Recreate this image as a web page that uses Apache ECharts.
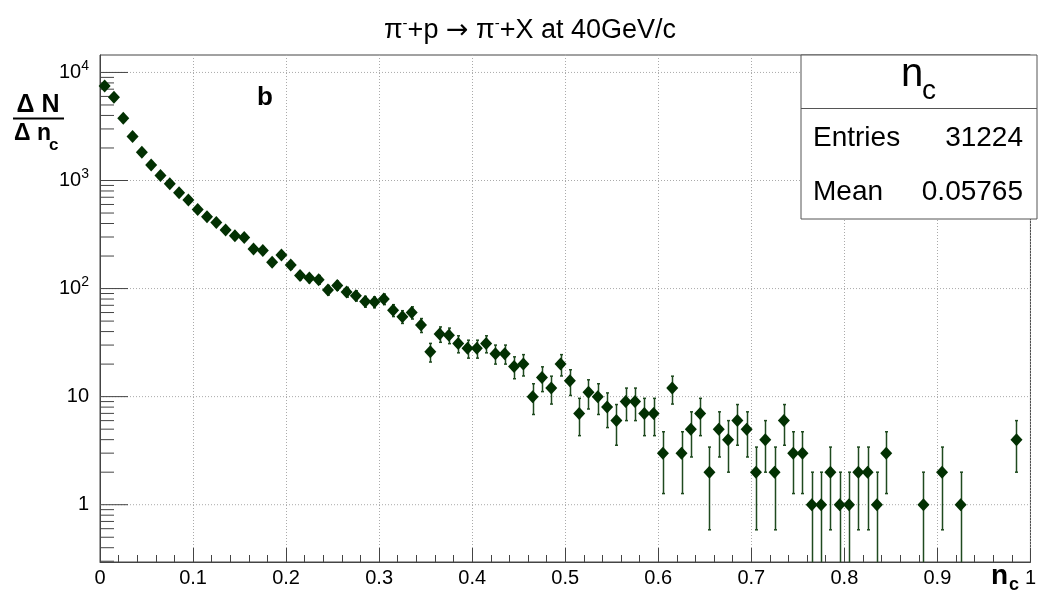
<!DOCTYPE html>
<html><head><meta charset="utf-8">
<script src="https://cdn.jsdelivr.net/npm/echarts@6/dist/echarts.min.js"></script>
<style>html,body{margin:0;padding:0;background:#fff}#c{width:1039px;height:592px}</style>
</head><body><div id="c"></div>
<script>
// Histogram definition: 100 bins on [0, 1]
const nBins = 100, xMin = 0, xMax = 1;
// Bin contents (entries per bin), 0 = empty bin
const counts = [
  7500, 5900, 3760, 2560, 1830, 1390, 1115, 933, 769, 659,
  540, 461, 409, 348, 308, 297, 232, 225, 175, 204,
  165, 132, 125, 121, 97, 107, 93, 86, 76, 75,
  80, 63, 55, 60, 46, 26, 38, 37, 31, 28,
  28, 31, 25, 25, 19, 20, 10, 15, 12, 20,
  14, 7, 11, 10, 8, 6, 9, 9, 7, 7,
  3, 12, 3, 5, 7, 2, 5, 4, 6, 5,
  2, 4, 2, 6, 3, 3, 1, 1, 2, 1,
  1, 2, 2, 1, 3, 0, 0, 0, 1, 0,
  2, 0, 1, 0, 0, 0, 0, 0, 4, 0
];
const xTickValues = [0, 0.1, 0.2, 0.3, 0.4, 0.5, 0.6, 0.7, 0.8, 0.9, 1];
const xTickLabels = ['0', '0.1', '0.2', '0.3', '0.4', '0.5', '0.6', '0.7', '0.8', '0.9', '1'];
const yTickValues = [1, 10, 100, 1000, 10000];
const yTickLabels = ['1', '10', '10{sup|2}', '10{sup|3}', '10{sup|4}'];
const yMinorTicks = [0.3, 0.4, 0.5, 0.6, 0.7, 0.8, 0.9,
  2, 3, 4, 5, 6, 7, 8, 9,
  20, 30, 40, 50, 60, 70, 80, 90,
  200, 300, 400, 500, 600, 700, 800, 900,
  2000, 3000, 4000, 5000, 6000, 7000, 8000, 9000];
const yMin = 0.295, yMax = 14500;
const statsTitle = 'n', statsTitleSub = 'c';
const statsRows = [['Entries', '31224'], ['Mean', '0.05765']];

const FONT = '"Liberation Sans", Arial, Helvetica, sans-serif';
const MARK = '#023002';
const ERR = '#1f4a1f';

const binW = (xMax - xMin) / nBins;
const points = [];
const errs = [];
counts.forEach((c, i) => {
  if (c > 0) {
    const x = xMin + (i + 0.5) * binW;
    const e = Math.sqrt(c);
    points.push([x, c]);
    errs.push([x, c, c - e, c + e]);
  }
});

function findIdx(arr, v) {
  for (let i = 0; i < arr.length; i++) {
    if (Math.abs(arr[i] - v) <= 1e-6 * Math.max(1, Math.abs(arr[i]))) return i;
  }
  return -1;
}

const chart = echarts.init(document.getElementById('c'), null, {renderer: 'canvas'});
chart.setOption({
  animation: false,
  backgroundColor: '#fff',
  grid: {left: 100, right: 2, top: 55, bottom: 30, show: true, borderColor: '#444', borderWidth: 1, backgroundColor: '#fff'},
  xAxis: {
    type: 'value', min: xMin, max: xMax, interval: 0.1,
    axisLine: {show: true, lineStyle: {color: '#444', width: 1}},
    axisTick: {show: true, inside: true, length: 14, lineStyle: {color: '#444'}},
    minorTick: {show: true, splitNumber: 5, length: 7, lineStyle: {color: '#444'}},
    splitLine: {show: true, lineStyle: {color: '#aaa', type: [1, 2], width: 1}},
    axisLabel: {
      margin: 6, fontSize: 20, fontFamily: FONT, color: '#000',
      showMinLabel: true, showMaxLabel: true,
      formatter: v => { const i = findIdx(xTickValues, v); return i >= 0 ? xTickLabels[i] : ''; }
    }
  },
  yAxis: {
    type: 'log', logBase: 10, min: yMin, max: yMax,
    axisLine: {show: true, lineStyle: {color: '#444', width: 1}},
    axisTick: {show: false},
    splitLine: {show: false},
    axisLabel: {show: false}
  },
  series: [
    {
      type: 'custom', name: 'grid', silent: true, z: 1,
      data: yTickValues.map(v => [xMin, v]),
      encode: {x: 0, y: 1},
      clip: false,
      renderItem: function (params, api) {
        const p = api.coord([api.value(0), api.value(1)]);
        const pr = api.coord([xMax, api.value(1)]);
        const i = params.dataIndex;
        return {type: 'group', children: [
          {type: 'line', shape: {x1: p[0], y1: p[1], x2: pr[0], y2: pr[1]}, style: {stroke: '#aaa', lineWidth: 1, lineDash: [1, 2]}, z2: 0},
          {type: 'line', shape: {x1: p[0], y1: p[1], x2: p[0] + 28, y2: p[1]}, style: {stroke: '#444', lineWidth: 1}, z2: 1},
          {type: 'text', x: p[0] - 11, y: p[1], style: {text: yTickLabels[i], align: 'right', verticalAlign: 'middle', fontSize: 20, fontFamily: FONT, fill: '#000', rich: {sup: {fontSize: 14, fontFamily: FONT, verticalAlign: 'top', lineHeight: 26}}, lineHeight: 26}}
        ]};
      }
    },
    {
      type: 'custom', name: 'minor', silent: true, z: 2,
      data: yMinorTicks.map(v => [xMin, v]),
      encode: {x: 0, y: 1},
      clip: false,
      renderItem: function (params, api) {
        const p = api.coord([api.value(0), api.value(1)]);
        return {type: 'line', shape: {x1: p[0], y1: p[1], x2: p[0] + 14, y2: p[1]}, style: {stroke: '#444', lineWidth: 1}};
      }
    },
    {
      type: 'custom', name: 'errors', silent: true, z: 3,
      data: errs,
      encode: {x: 0, y: 1},
      clip: true,
      renderItem: function (params, api) {
        const x = api.value(0), lo = api.value(2), hi = api.value(3);
        const pt = api.coord([x, hi]);
        const pb = api.coord([x, lo > 0 ? lo : yMin * 0.05]);
        const cx = Math.round(pt[0]) + 0.5;
        const ch = [
          {type: 'line', shape: {x1: cx, y1: pt[1], x2: cx, y2: pb[1]}, style: {stroke: ERR, lineWidth: 1.5}},
          {type: 'line', shape: {x1: cx - 1.5, y1: pt[1], x2: cx + 1.5, y2: pt[1]}, style: {stroke: ERR, lineWidth: 1.5}}
        ];
        if (lo > 0) ch.push({type: 'line', shape: {x1: cx - 1.5, y1: pb[1], x2: cx + 1.5, y2: pb[1]}, style: {stroke: ERR, lineWidth: 1.5}});
        return {type: 'group', children: ch};
      }
    },
    {
      type: 'scatter', name: 'n_c', z: 4,
      data: points,
      symbol: 'diamond', symbolSize: [12, 13],
      itemStyle: {color: MARK, opacity: 1},
      silent: true
    }
  ],
  graphic: [
    {type: 'text', x: 530, y: 31, style: {text: 'π{sup|-}+p {arr|→} π{sup|-}+X at 40GeV/c', align: 'center', verticalAlign: 'middle', fontSize: 27, fontFamily: FONT, fill: '#000', lineHeight: 30,
      rich: {sup: {fontSize: 15, fontFamily: FONT, verticalAlign: 'top', lineHeight: 30}, arr: {fontSize: 27, fontFamily: '"DejaVu Sans", sans-serif', lineHeight: 30}}}},
    {type: 'text', x: 38, y: 105, style: {text: 'Δ N', align: 'center', verticalAlign: 'middle', fontSize: 25, fontWeight: 'bold', fontFamily: FONT, fill: '#000'}},
    {type: 'line', shape: {x1: 13, y1: 118.5, x2: 64, y2: 118.5}, style: {stroke: '#000', lineWidth: 2}},
    {type: 'text', x: 14, y: 134, style: {text: 'Δ n', align: 'left', verticalAlign: 'middle', fontSize: 23, fontWeight: 'bold', fontFamily: FONT, fill: '#000'}},
    {type: 'text', x: 49, y: 145, style: {text: 'c', align: 'left', verticalAlign: 'middle', fontSize: 17, fontWeight: 'bold', fontFamily: FONT, fill: '#000'}},
    {type: 'text', x: 265, y: 98, style: {text: 'b', align: 'center', verticalAlign: 'middle', fontSize: 26, fontWeight: 'bold', fontFamily: FONT, fill: '#000'}},
    {type: 'text', x: 991, y: 576, style: {text: 'n', align: 'left', verticalAlign: 'middle', fontSize: 28, fontWeight: 'bold', fontFamily: FONT, fill: '#000'}},
    {type: 'text', x: 1009, y: 585, style: {text: 'c', align: 'left', verticalAlign: 'middle', fontSize: 18, fontWeight: 'bold', fontFamily: FONT, fill: '#000'}},
    {type: 'rect', shape: {x: 801, y: 55, width: 236, height: 164}, style: {fill: '#fff', stroke: '#555', lineWidth: 1}, z: 100},
    {type: 'line', shape: {x1: 801, y1: 108.5, x2: 1037, y2: 108.5}, style: {stroke: '#555', lineWidth: 1}, z: 101},
    {type: 'text', x: 901, y: 75, style: {text: statsTitle, align: 'left', verticalAlign: 'middle', fontSize: 40, fontFamily: FONT, fill: '#000'}, z: 101},
    {type: 'text', x: 922, y: 91, style: {text: statsTitleSub, align: 'left', verticalAlign: 'middle', fontSize: 28, fontFamily: FONT, fill: '#000'}, z: 101},
    {type: 'text', x: 813, y: 138, style: {text: statsRows[0][0], align: 'left', verticalAlign: 'middle', fontSize: 28, fontFamily: FONT, fill: '#000'}, z: 101},
    {type: 'text', x: 1023, y: 138, style: {text: statsRows[0][1], align: 'right', verticalAlign: 'middle', fontSize: 28, fontFamily: FONT, fill: '#000'}, z: 101},
    {type: 'text', x: 813, y: 192, style: {text: statsRows[1][0], align: 'left', verticalAlign: 'middle', fontSize: 28, fontFamily: FONT, fill: '#000'}, z: 101},
    {type: 'text', x: 1023, y: 192, style: {text: statsRows[1][1], align: 'right', verticalAlign: 'middle', fontSize: 28, fontFamily: FONT, fill: '#000'}, z: 101}
  ]
});
</script>
</body></html>
